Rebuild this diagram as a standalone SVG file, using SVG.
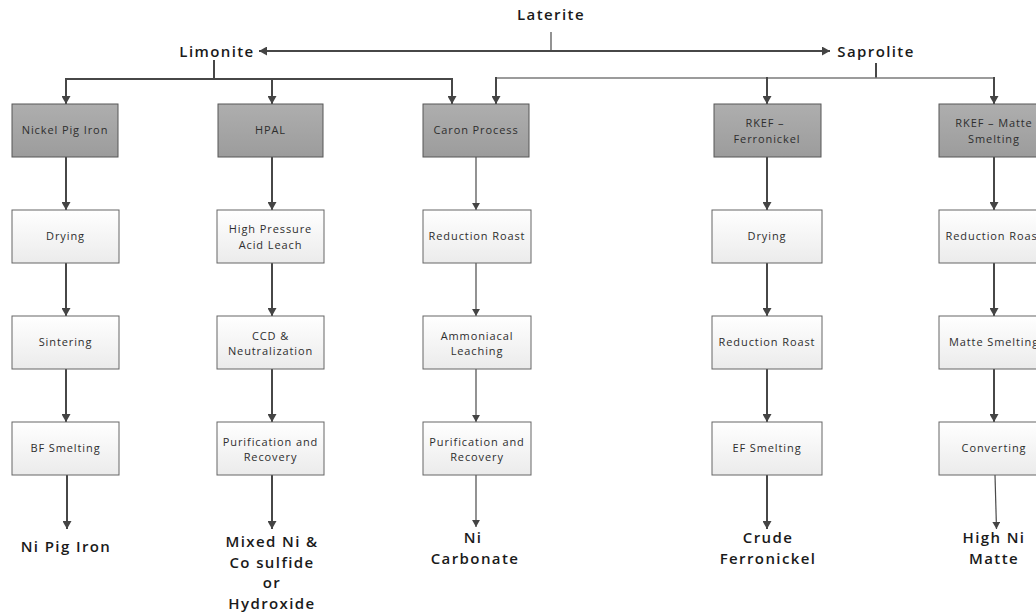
<svg xmlns="http://www.w3.org/2000/svg" width="1036" height="614" viewBox="0 0 1036 614">
<style>
.bg{fill:#ffffff}
.dark{fill:url(#gDark);stroke:#575757;stroke-width:1}
.light{fill:url(#gLight);stroke:#666666;stroke-width:1}
.bt{font-family:"Open Sans","Liberation Sans",sans-serif;font-size:11px;letter-spacing:0.9px;fill:#2e2e2e;text-anchor:middle}
.lbl{font-family:"Open Sans","Liberation Sans",sans-serif;font-size:15px;font-weight:600;letter-spacing:1.4px;fill:#1a1a1a;text-anchor:middle}
.c{fill:none;stroke:#474747;stroke-width:2}
.ct{fill:none;stroke:#4a4a4a;stroke-width:1.2}
.cl{fill:none;stroke:#7a7a7a;stroke-width:1.5}
</style>
<defs>
<linearGradient id="gDark" x1="0" y1="0" x2="0" y2="1">
<stop offset="0" stop-color="#aeaeae"/>
<stop offset="1" stop-color="#9c9c9c"/>
</linearGradient>
<linearGradient id="gLight" x1="0" y1="0" x2="0" y2="1">
<stop offset="0" stop-color="#ffffff"/>
<stop offset="1" stop-color="#ebebeb"/>
</linearGradient>
<marker id="ah" viewBox="0 0 8 9" refX="8" refY="4.5" markerWidth="8" markerHeight="9" markerUnits="userSpaceOnUse" orient="auto">
<path d="M0,0 L8,4.5 L0,9 z" fill="#444444"/>
</marker>
<marker id="ahs" viewBox="0 0 8 9" refX="8" refY="4.5" markerWidth="7" markerHeight="8" markerUnits="userSpaceOnUse" orient="auto">
<path d="M0,0 L8,4.5 L0,9 z" fill="#444444"/>
</marker>
</defs>
<rect class="bg" x="0" y="0" width="1036" height="614"/>

<g id="connectors">
<!-- Laterite split -->
<line class="ct" x1="551" y1="32" x2="551" y2="51"/>
<line class="c" x1="551" y1="51" x2="259" y2="51" marker-end="url(#ah)"/>
<line class="c" x1="551" y1="51" x2="830" y2="51" marker-end="url(#ah)"/>
<!-- Limonite branch -->
<line class="c" x1="214" y1="60" x2="214" y2="79"/>
<path class="c" d="M66,79 H452"/>
<line class="c" x1="66" y1="78" x2="66" y2="104" marker-end="url(#ah)"/>
<line class="c" x1="272" y1="78" x2="272" y2="104" marker-end="url(#ah)"/>
<line class="c" x1="452" y1="78" x2="452" y2="104" marker-end="url(#ah)"/>
<!-- Saprolite branch -->
<line class="c" x1="876" y1="63" x2="876" y2="78"/>
<path class="cl" d="M496,78 H994"/>
<line class="c" x1="496" y1="77" x2="496" y2="104" marker-end="url(#ah)"/>
<line class="c" x1="767" y1="77" x2="767" y2="104" marker-end="url(#ah)"/>
<line class="c" x1="994" y1="77" x2="994" y2="104" marker-end="url(#ah)"/>
<!-- Column 1 -->
<line class="c" x1="66" y1="157" x2="66" y2="210" marker-end="url(#ah)"/>
<line class="c" x1="66" y1="263" x2="66" y2="316" marker-end="url(#ah)"/>
<line class="c" x1="66" y1="369" x2="66" y2="422" marker-end="url(#ah)"/>
<line class="c" x1="67" y1="475" x2="67" y2="529" marker-end="url(#ah)"/>
<!-- Column 2 -->
<line class="c" x1="272" y1="157" x2="272" y2="210" marker-end="url(#ah)"/>
<line class="c" x1="272" y1="263" x2="272" y2="316" marker-end="url(#ah)"/>
<line class="c" x1="272" y1="369" x2="272" y2="422" marker-end="url(#ah)"/>
<line class="c" x1="272" y1="475" x2="272" y2="529" marker-end="url(#ah)"/>
<!-- Column 3 -->
<line class="ct" x1="476" y1="157" x2="476" y2="210" marker-end="url(#ahs)"/>
<line class="ct" x1="476" y1="263" x2="476" y2="316" marker-end="url(#ahs)"/>
<line class="ct" x1="476" y1="369" x2="476" y2="422" marker-end="url(#ahs)"/>
<line class="ct" x1="476" y1="475" x2="476" y2="527" marker-end="url(#ahs)"/>
<!-- Column 4 -->
<line class="c" x1="767" y1="157" x2="767" y2="210" marker-end="url(#ah)"/>
<line class="c" x1="767" y1="263" x2="767" y2="316" marker-end="url(#ah)"/>
<line class="c" x1="767" y1="369" x2="767" y2="422" marker-end="url(#ah)"/>
<line class="c" x1="767" y1="475" x2="767" y2="529" marker-end="url(#ah)"/>
<!-- Column 5 -->
<line class="c" x1="994" y1="157" x2="994" y2="210" marker-end="url(#ah)"/>
<line class="c" x1="994" y1="263" x2="994" y2="316" marker-end="url(#ah)"/>
<line class="c" x1="994" y1="369" x2="994" y2="422" marker-end="url(#ah)"/>
<line class="ct" x1="995" y1="475" x2="996.5" y2="529" marker-end="url(#ahs)"/>
</g>

<g id="laterite"><text class="lbl" x="551" y="20">Laterite</text></g>
<g id="limonite"><text class="lbl" x="217" y="57">Limonite</text></g>
<g id="saprolite"><text class="lbl" x="876" y="57">Saprolite</text></g>

<!-- Column 1 -->
<g id="npi"><rect class="dark" x="12" y="104" width="106" height="53"/><text class="bt" x="65" y="134">Nickel Pig Iron</text></g>
<g id="npi-drying"><rect class="light" x="12" y="210" width="107" height="53"/><text class="bt" x="65.5" y="240">Drying</text></g>
<g id="npi-sintering"><rect class="light" x="12" y="316" width="107" height="53"/><text class="bt" x="65.5" y="346">Sintering</text></g>
<g id="npi-bf"><rect class="light" x="12" y="422" width="107" height="53"/><text class="bt" x="65.5" y="452">BF Smelting</text></g>
<g id="out-npi"><text class="lbl" x="66" y="552">Ni Pig Iron</text></g>

<!-- Column 2 -->
<g id="hpal"><rect class="dark" x="218" y="104" width="105" height="53"/><text class="bt" x="270.5" y="134">HPAL</text></g>
<g id="hpal-leach"><rect class="light" x="217" y="210" width="107" height="53"/><text class="bt" x="270.5" y="233">High Pressure</text><text class="bt" x="270.5" y="248.5">Acid Leach</text></g>
<g id="hpal-ccd"><rect class="light" x="217" y="316" width="107" height="53"/><text class="bt" x="270.5" y="340">CCD &amp;</text><text class="bt" x="270.5" y="355">Neutralization</text></g>
<g id="hpal-pur"><rect class="light" x="217" y="422" width="107" height="53"/><text class="bt" x="270.5" y="445.5">Purification and</text><text class="bt" x="270.5" y="461">Recovery</text></g>
<g id="out-hpal">
<text class="lbl" x="272" y="547">Mixed Ni &amp;</text>
<text class="lbl" x="272" y="567.5">Co sulfide</text>
<text class="lbl" x="272" y="588">or</text>
<text class="lbl" x="272" y="609">Hydroxide</text>
</g>

<!-- Column 3 -->
<g id="caron"><rect class="dark" x="423" y="104" width="106" height="53"/><text class="bt" x="476" y="134">Caron Process</text></g>
<g id="caron-roast"><rect class="light" x="423" y="210" width="108" height="53"/><text class="bt" x="477" y="240">Reduction Roast</text></g>
<g id="caron-leach"><rect class="light" x="423" y="316" width="108" height="53"/><text class="bt" x="477" y="340">Ammoniacal</text><text class="bt" x="477" y="355">Leaching</text></g>
<g id="caron-pur"><rect class="light" x="423" y="422" width="108" height="53"/><text class="bt" x="477" y="445.5">Purification and</text><text class="bt" x="477" y="461">Recovery</text></g>
<g id="out-caron">
<text class="lbl" x="473" y="543">Ni</text>
<text class="lbl" x="475" y="564">Carbonate</text>
</g>

<!-- Column 4 -->
<g id="rkef-fe"><rect class="dark" x="714" y="104" width="107" height="53"/><text class="bt" x="765" y="127">RKEF –</text><text class="bt" x="767" y="143">Ferronickel</text></g>
<g id="fe-drying"><rect class="light" x="712" y="210" width="110" height="53"/><text class="bt" x="767" y="240">Drying</text></g>
<g id="fe-roast"><rect class="light" x="712" y="316" width="110" height="53"/><text class="bt" x="767" y="346">Reduction Roast</text></g>
<g id="fe-ef"><rect class="light" x="712" y="422" width="110" height="53"/><text class="bt" x="767" y="452">EF Smelting</text></g>
<g id="out-fe">
<text class="lbl" x="768" y="543">Crude</text>
<text class="lbl" x="768" y="564">Ferronickel</text>
</g>

<!-- Column 5 -->
<g id="rkef-matte"><rect class="dark" x="939" y="104" width="108" height="53"/><text class="bt" x="994" y="127">RKEF – Matte</text><text class="bt" x="994" y="143">Smelting</text></g>
<g id="matte-roast"><rect class="light" x="939" y="210" width="110" height="53"/><text class="bt" x="994" y="240">Reduction Roast</text></g>
<g id="matte-smelt"><rect class="light" x="939" y="316" width="110" height="53"/><text class="bt" x="994" y="346">Matte Smelting</text></g>
<g id="matte-conv"><rect class="light" x="939" y="422" width="110" height="53"/><text class="bt" x="994" y="452">Converting</text></g>
<g id="out-matte">
<text class="lbl" x="994" y="543">High Ni</text>
<text class="lbl" x="994" y="564">Matte</text>
</g>
</svg>
